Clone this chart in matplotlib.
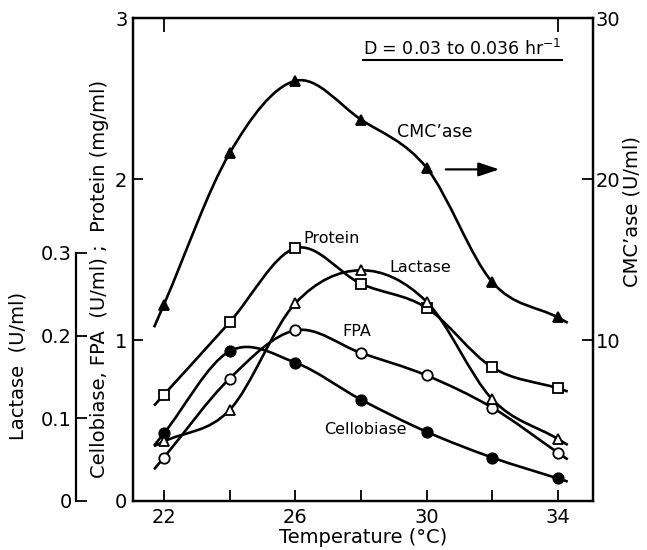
import numpy as np
import matplotlib
matplotlib.use('Agg')
import matplotlib.pyplot as plt
from matplotlib.path import Path
from matplotlib.patches import PathPatch

temp = [22, 24, 26, 28, 30, 32, 34]
protein = [0.66, 1.11, 1.57, 1.35, 1.20, 0.83, 0.70]       # mg/ml
fpa = [0.27, 0.76, 1.06, 0.92, 0.78, 0.58, 0.30]           # U/ml
cellobiase = [0.42, 0.93, 0.86, 0.63, 0.43, 0.27, 0.14]    # U/ml
lactase = [0.072, 0.110, 0.239, 0.279, 0.241, 0.123, 0.075]  # U/ml
cmcase = [12.2, 21.6, 26.1, 23.7, 20.7, 13.6, 11.4]        # U/ml

plt.rcParams['font.family'] = 'DejaVu Sans'
plt.rcParams['font.size'] = 14


def smooth_path(xs, ys, ext=0.15):
    # Catmull-Rom through the points, drawn as cubic Bezier segments
    p = np.column_stack([xs, ys]).astype(float)
    pts = np.vstack([2 * p[0] - p[1], p, 2 * p[-1] - p[-2]])
    verts = [p[0] - ext * (p[1] - p[0]), p[0]]
    codes = [Path.MOVETO, Path.LINETO]
    for i in range(1, len(pts) - 2):
        c1 = pts[i] + (pts[i + 1] - pts[i - 1]) / 6
        c2 = pts[i + 1] - (pts[i + 2] - pts[i]) / 6
        verts += [c1, c2, pts[i + 1]]
        codes += [Path.CURVE4] * 3
    verts.append(p[-1] + ext * (p[-1] - p[-2]))
    codes.append(Path.LINETO)
    return Path(verts, codes)


def draw(axis, xs, ys, marker, filled):
    axis.add_patch(PathPatch(smooth_path(xs, ys), fc='none', ec='black', lw=1.9, zorder=2))
    axis.plot(xs, ys, ls='none', marker=marker, ms=7.5, mew=1.3, mec='black',
              mfc='black' if filled else 'white', zorder=3)


fig = plt.figure(figsize=(6.47, 5.5), dpi=100)
ax = fig.add_axes([0.2056, 0.0891, 0.711, 0.878])
ax_r = ax.twinx()
ax_l = ax.twinx()

ax.set_xlim(21.06, 35.07)
ax.set_ylim(0, 3)
ax_r.set_ylim(0, 30)
ax_l.set_ylim(0, 0.584)

draw(ax, temp, protein, 's', False)
draw(ax, temp, fpa, 'o', False)
draw(ax, temp, cellobiase, 'o', True)
draw(ax_l, temp, lactase, '^', False)
draw(ax_r, temp, cmcase, '^', True)

for a in (ax, ax_r, ax_l):
    for s in a.spines.values():
        s.set_linewidth(1.6)

# bottom axis
ax.set_xticks([22, 26, 30, 34])
ax.set_xticks([24, 28, 32], minor=True)
ax.tick_params(axis='x', which='both', direction='in', length=8, width=1.3, pad=5)
ax.set_xlabel('Temperature (°C)', labelpad=1)
top = ax.secondary_xaxis('top')
top.set_xticks([22, 34])
top.tick_params(direction='in', length=10, width=1.3, labeltop=False)

# main left axis
ax.set_yticks([0, 1, 2, 3])
ax.set_yticklabels(['0', '1', '2', '3'])
ax.tick_params(axis='y', direction='in', length=7, width=1.3, pad=4)
ax.set_ylabel('Cellobiase, FPA  (U/ml) ;  Protein (mg/ml)')
ax.yaxis.set_label_coords(-0.052, 0.46)

# right axis
ax_r.set_yticks([10, 20, 30])
ax_r.tick_params(axis='y', direction='in', length=8, width=1.3, pad=2)
ax_r.set_ylabel("CMC’ase (U/ml)")
ax_r.yaxis.set_label_coords(1.063, 0.60)

# offset lactase axis on the far left
for k in ('top', 'bottom', 'right'):
    ax_l.spines[k].set_visible(False)
ax_l.spines['left'].set_visible(True)
ax_l.spines['left'].set_position(('axes', -0.124))
ax_l.spines['left'].set_bounds(0, 0.3)
ax_l.yaxis.set_ticks_position('left')
ax_l.yaxis.set_label_position('left')
ax_l.set_yticks([0, 0.1, 0.2, 0.3])
ax_l.set_yticklabels(['0', '0.1', '0.2', '0.3'])
ax_l.tick_params(axis='y', direction='in', length=8, width=1.3, pad=3)
ax_l.set_ylabel('Lactase  (U/ml)')
ax_l.yaxis.set_label_coords(-0.23, 0.28)

# curve labels
ax.text(29.1, 2.29, "CMC’ase", va='center', ha='left', fontsize=12.5)
ax.annotate('', xy=(32.3, 2.06), xytext=(30.5, 2.06),
            arrowprops=dict(arrowstyle='-|>,head_length=0.9,head_width=0.3', lw=1.6, color='black'))
ax.text(26.24, 1.63, 'Protein', va='center', ha='left', fontsize=11.5)
ax.text(28.88, 1.45, 'Lactase', va='center', ha='left', fontsize=11.5)
ax.text(27.45, 1.05, 'FPA', va='center', ha='left', fontsize=11.5)
ax.text(26.87, 0.447, 'Cellobiase', va='center', ha='left', fontsize=11.5)

ax.text(28.06, 2.81, 'D = 0.03 to 0.036 hr$^{-1}$', va='center', ha='left', fontsize=12.5)
ax.plot([28.06, 34.12], [2.74, 2.74], color='black', lw=1.5, clip_on=False)

fig.savefig('out.png', dpi=100)
